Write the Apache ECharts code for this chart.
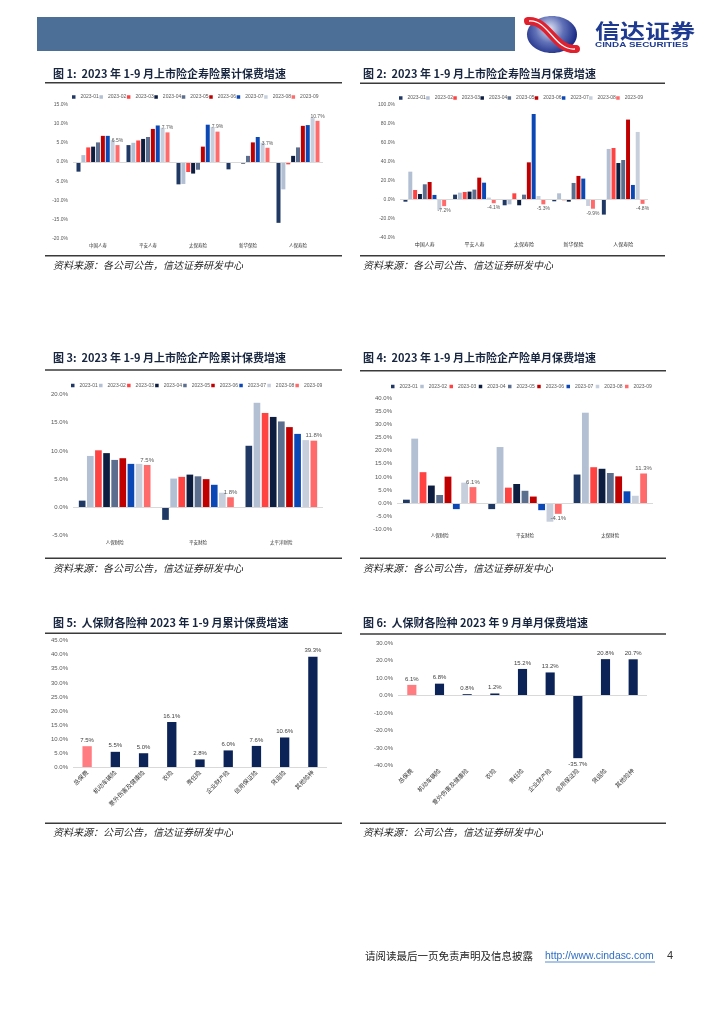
<!DOCTYPE html>
<html><head><meta charset="utf-8">
<script src="https://cdn.jsdelivr.net/npm/echarts@6/dist/echarts.min.js"></script>
<style>html,body{margin:0;padding:0;background:#fff}#page{width:724px;height:1024px}</style>
</head><body><div id="page"></div>
<script>
// ---------- data ----------
const months = ['2023-01','2023-02','2023-03','2023-04','2023-05','2023-06','2023-07','2023-08','2023-09'];
// 图1 寿险累计
const lifeCats = ['中国人寿','平安人寿','太保寿险','新华保险','人保寿险'];
const c1China = [-2.5,1.8,3.8,4.0,5.1,6.8,6.8,5.7,4.4];
const c1Pingan = [4.4,5.0,5.6,6.0,6.5,8.6,9.5,8.9,7.7];
const c1Cpic = [-5.8,-5.7,-2.6,-3.0,-2.0,4.0,9.7,9.1,7.9];
const c1Nci = [-1.9,-0.1,-0.2,-0.4,1.6,5.1,6.5,5.0,3.7];
const c1Picc = [-15.8,-7.1,-0.6,1.6,3.8,9.4,9.6,11.4,10.7];
const c1Labels = ['6.5%','7.7%','7.9%','3.7%','10.7%'];
// 图2 寿险当月
const c2China = [-2.5,29.1,9.8,5.6,15.8,18.2,4.6,-11.2,-7.2];
const c2Pingan = [4.9,7.0,7.7,8.1,10.2,22.8,17.5,1.8,-4.1];
const c2Cpic = [-6.3,-5.3,6.3,-6.3,4.9,38.9,89.8,3.5,-5.3];
const c2Nci = [-2.1,6.3,-1.0,-2.5,17.2,24.6,21.8,-7.0,-9.9];
const c2Picc = [-16.1,53.0,54.0,38.2,41.4,83.9,15.1,70.9,-4.8];
// 图3 产险累计
const pcCats3 = ['人保财险','平安财险','太平洋财险'];
const c3Picc = [1.2,9.1,10.1,9.6,8.4,8.7,7.7,7.7,7.5];
const c3Pingan = [-2.2,5.1,5.4,5.8,5.5,5.0,4.0,2.6,1.8];
const c3Cpic = [10.9,18.5,16.7,16.0,15.2,14.2,13.0,11.9,11.8];
// 图4 产险单月
const pcCats4 = ['人保财险','平安财险','太保财险'];
const c4Picc = [1.3,24.6,11.8,6.7,3.1,10.1,-2.3,7.8,6.1];
const c4Pingan = [-2.3,21.4,5.9,7.3,4.7,2.5,-2.7,-7.1,-4.1];
const c4Cpic = [10.9,34.5,13.7,13.1,11.5,10.2,4.5,2.8,11.3];
// 图5/6 人保财各险种
const lineCats = ['总保费','机动车辆险','意外伤害及健康险','农险','责任险','企业财产险','信用保证险','货运险','其他险种'];
const c5Values = [7.5,5.5,5.0,16.1,2.8,6.0,7.6,10.6,39.3];
const c6Values = [6.1,6.8,0.8,1.2,15.2,13.2,-35.7,20.8,20.7];
// 刻度
const yTicks1 = {min:-20,max:15,interval:5};
const yTicks2 = {min:-40,max:100,interval:20};
const yTicks3 = {min:-5,max:20,interval:5};
const yTicks4 = {min:-10,max:40,interval:5};
const yTicks5 = {min:0,max:45,interval:5};
const yTicks6 = {min:-40,max:30,interval:10};

// ---------- style ----------
const palette = ['#1F3864','#B3BFD3','#FF4242','#0D1D40','#5B6E8E','#C00000','#0B48B5','#C7CFDD','#FF6B6B'];
const LAT = '"Liberation Sans", Arial, sans-serif';
const CJK = '"Noto Sans CJK SC", sans-serif';
const pct = v => v.toFixed(1) + '%';

const grids = [
  {left:73, top:104.3, width:250, height:134.7},
  {left:400, top:104.3, width:248, height:133},
  {left:73, top:394.3, width:250, height:141.4},
  {left:397, top:398.3, width:256, height:131},
  {left:73, top:640.7, width:254, height:126.6},
  {left:398, top:643, width:249, height:122.7}
];
const ticks = [yTicks1,yTicks2,yTicks3,yTicks4,yTicks5,yTicks6];
const catsList = [lifeCats,lifeCats,pcCats3,pcCats4,lineCats,lineCats];
const yLabelSize = [5,5,6,6,6,6];
const xLabelSize = [4.5,5,4.5,4.5,6,6];

const xAxis = catsList.map((c,i)=>({
  gridIndex:i, type:'category', data:c,
  axisLine:{show:false}, axisTick:{show:false},
  axisLabel: i>=4 ? {rotate:45, interval:0, fontSize:6, color:'#333', fontFamily:CJK, margin:4}
                  : {interval:0, fontSize:xLabelSize[i], color:'#333', fontFamily:CJK, margin:4}
}));
const yAxis = ticks.map((t,i)=>({
  gridIndex:i, type:'value', min:t.min, max:t.max, interval:t.interval,
  splitLine:{show:false}, axisLine:{show:false}, axisTick:{show:false},
  axisLabel:{formatter:pct, fontSize:yLabelSize[i], color:'#595959', fontFamily:LAT, margin:5}
}));

const zeroLine = {silent:true, symbol:'none', data:[{yAxis:0}],
  lineStyle:{color:'#D9D9D9', type:'solid', width:1}, label:{show:false}, animation:false};

function monthSeries(gi, groups, labelTexts, lblSize){
  return months.map((m,i)=>{
    const s = {
      name:m, type:'bar', xAxisIndex:gi, yAxisIndex:gi,
      barGap:'22%', barCategoryGap:'14%',
      itemStyle:{color:palette[i]},
      label:{fontSize:lblSize, color:'#595959', fontFamily:LAT, distance:2},
      data: groups.map((g,ci)=>{
        const v = g[i];
        if(i===8){
          return {value:v, label:{show:true, position:v<0?'bottom':'top',
            formatter: labelTexts ? labelTexts[ci] : pct(v)}};
        }
        return v;
      })
    };
    if(i===0) s.markLine = zeroLine;
    return s;
  });
}
function singleSeries(gi, values){
  return {
    type:'bar', xAxisIndex:gi, yAxisIndex:gi, barWidth:'33%',
    data: values.map((v,i)=>({value:v, itemStyle:{color: i===0 ? '#FF7C80' : '#0C2358'},
      label:{show:true, position: v<0?'bottom':'top'}})),
    label:{fontSize:6, color:'#404040', fontFamily:LAT, distance:3, formatter:p=>pct(p.value)},
    markLine: zeroLine
  };
}

const series = [
  ...monthSeries(0,[c1China,c1Pingan,c1Cpic,c1Nci,c1Picc], c1Labels, 5),
  ...monthSeries(1,[c2China,c2Pingan,c2Cpic,c2Nci,c2Picc], null, 5),
  ...monthSeries(2,[c3Picc,c3Pingan,c3Cpic], null, 6),
  ...monthSeries(3,[c4Picc,c4Pingan,c4Cpic], null, 6),
  singleSeries(4,c5Values),
  singleSeries(5,c6Values)
];

function mkLegend(left, top, gap){
  return {data:months, left:left, top:top, icon:'rect', itemWidth:3.5, itemHeight:3.5, itemGap:gap,
    selectedMode:false, textStyle:{fontSize:5, color:'#595959', fontFamily:LAT}};
}
const legend = [mkLegend(67,89.5,0.6), mkLegend(394,90.5,0.3), mkLegend(66,378,1.2), mkLegend(386,379,2.4)];

// ---------- page graphics ----------
const g = [];
function txt(x,y,text,font,fill,align,sx){ g.push({type:'text', silent:true, x:x, y:y, scaleX:sx||1, style:{x:0,y:0,text:text,font:font,fill:fill||'#000',textAlign:align||'left',textVerticalAlign:'middle'}}); }
function hline(x1,x2,y,w,c){ g.push({type:'line', silent:true, shape:{x1:x1,y1:y,x2:x2,y2:y}, style:{stroke:c||'#3A3A3A', lineWidth:w||1.5}}); }

// header
g.push({type:'rect', silent:true, shape:{x:37,y:17,width:478,height:34}, style:{fill:'#4B6F97'}});
g.push({type:'ellipse', silent:true, shape:{cx:552,cy:34.5,rx:25,ry:18.5}, style:{fill:{type:'radial',x:0.45,y:0.35,r:0.75,colorStops:[{offset:0,color:'#E4E8F6'},{offset:0.5,color:'#6272B8'},{offset:1,color:'#1A2A85'}]}}});
g.push({type:'bezierCurve', silent:true, shape:{x1:528,y1:21,cpx1:548,cpy1:19,cpx2:555,cpy2:51,x2:576,y2:49}, style:{stroke:'#E0202C',lineWidth:8,fill:null,lineCap:'round'}});
g.push({type:'bezierCurve', silent:true, shape:{x1:529,y1:21,cpx1:548,cpy1:19,cpx2:555,cpy2:51,x2:575,y2:49}, style:{stroke:'#FFFFFF',lineWidth:1.3,fill:null}});
txt(595,31,'信达证券','bold 20px '+CJK,'#1E3B91','left',1.25);
txt(595,44.5,'CINDA SECURITIES','bold 7.6px '+LAT,'#1E3B91','left',1.3);

// titles
const titleFont = 'bold 11px '+CJK, titleCol = '#17253F';
txt(53,74,'图 1:  2023 年 1-9 月上市险企寿险累计保费增速',titleFont,titleCol);
txt(363,74,'图 2:  2023 年 1-9 月上市险企寿险当月保费增速',titleFont,titleCol);
txt(53,358,'图 3:  2023 年 1-9 月上市险企产险累计保费增速',titleFont,titleCol);
txt(363,358,'图 4:  2023 年 1-9 月上市险企产险单月保费增速',titleFont,titleCol);
txt(53,623,'图 5:  人保财各险种 2023 年 1-9 月累计保费增速',titleFont,titleCol);
txt(363,623,'图 6:  人保财各险种 2023 年 9 月单月保费增速',titleFont,titleCol);
// rules
hline(45,342,82.7); hline(360,665,83.3);
hline(45,342,255.7); hline(360,665,255.7);
hline(45,342,370); hline(360,666,370.7);
hline(45,342,558.3); hline(360,666,558.3);
hline(45,342,633.3); hline(360,666,634);
hline(45,342,823.3); hline(360,666,823.3);
// sources
const srcFont = 'italic 10px '+CJK, srcCol='#262626';
txt(53,265,'资料来源：各公司公告，信达证券研发中心',srcFont,srcCol);
txt(363,265,'资料来源：各公司公告、信达证券研发中心',srcFont,srcCol);
txt(53,568,'资料来源：各公司公告，信达证券研发中心',srcFont,srcCol);
txt(363,568,'资料来源：各公司公告，信达证券研发中心',srcFont,srcCol);
txt(53,832,'资料来源：公司公告，信达证券研发中心',srcFont,srcCol);
txt(363,832,'资料来源：公司公告，信达证券研发中心',srcFont,srcCol);
// footer
txt(365,956,'请阅读最后一页免责声明及信息披露','10.5px '+CJK,'#222');
txt(545,956,'http://www.cindasc.com','10.4px '+LAT,'#2E6FC5');
hline(545,655,962,0.8,'#2E6FC5');
txt(667,956,'4','11px '+LAT,'#333');

const chart = echarts.init(document.getElementById('page'), null, {renderer:'canvas', width:724, height:1024});
chart.setOption({
  animation:false,
  backgroundColor:'#fff',
  textStyle:{fontFamily:LAT},
  grid:grids, xAxis:xAxis, yAxis:yAxis, legend:legend, series:series,
  graphic:g
});
</script></body></html>
